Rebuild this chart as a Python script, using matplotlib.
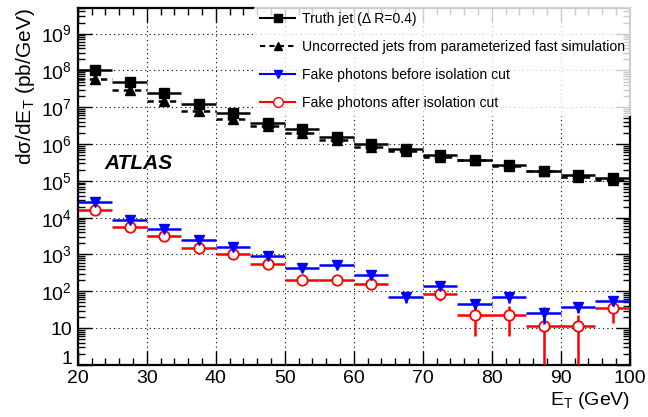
import numpy as np
import matplotlib
matplotlib.use('Agg')
import matplotlib.pyplot as plt
import matplotlib.transforms as mtransforms
from matplotlib.ticker import LogLocator, MultipleLocator, NullFormatter
from matplotlib.lines import Line2D

plt.rcParams['font.family'] = ['Liberation Sans', 'DejaVu Sans']
plt.rcParams['mathtext.fontset'] = 'custom'
plt.rcParams['mathtext.rm'] = 'Liberation Sans'
plt.rcParams['mathtext.it'] = 'Liberation Sans:italic'
plt.rcParams['mathtext.bf'] = 'Liberation Sans:bold'

# bin centres (5 GeV bins)
et = [22.5, 27.5, 32.5, 37.5, 42.5, 47.5, 52.5, 57.5,
      62.5, 67.5, 72.5, 77.5, 82.5, 87.5, 92.5, 97.5]
half_bin = 2.5

truth = [1.05e8, 5.0e7, 2.4e7, 1.24e7, 6.9e6, 3.8e6, 2.6e6, 1.55e6,
         9.9e5, 7.2e5, 5.1e5, 3.7e5, 2.7e5, 1.9e5, 1.45e5, 1.18e5]
fastsim = [5.8e7, 3.0e7, 1.5e7, 8.1e6, 4.8e6, 3.1e6, 2.0e6, 1.3e6,
           8.3e5, 6.3e5, 4.4e5, 3.6e5, 2.5e5, 1.8e5, 1.3e5, 1.07e5]
fake_before = [2.6e4, 8.9e3, 5.0e3, 2.4e3, 1.63e3, 900, 433, 510,
               280, 69, 140, 46, 69, 25, 37, 56]
fake_before_err = [1500, 500, 300, 150, 100, 60, 40, 45,
                   35, 22, 25, 12, 22, 12, 12, 15]
fake_after = [1.6e4, 5.5e3, 3.1e3, 1.5e3, 1.04e3, 545, 200, 207,
              162, np.nan, 83, 23, 23, 11.7, 11.7, 35]
fake_after_err = [1200, 400, 250, 120, 90, 50, 30, 30,
                  30, np.nan, 30, 17, 17, 11.5, 11.5, 21]

ytick_vals = [1, 10, 1e2, 1e3, 1e4, 1e5, 1e6, 1e7, 1e8, 1e9]
ytick_labels = ['1', '10', '$10^{2}$', '$10^{3}$', '$10^{4}$', '$10^{5}$',
                '$10^{6}$', '$10^{7}$', '$10^{8}$', '$10^{9}$']

fig = plt.figure(figsize=(6.48, 4.17), dpi=100)
ax = fig.add_axes([0.120, 0.125, 0.852, 0.856])
ax.set_yscale('log')

# fake photons after isolation (red open circles)
ax.errorbar(et, fake_after, xerr=half_bin, yerr=fake_after_err, fmt='o',
            color='red', mfc='white', mec='red', mew=1.3, ms=7.5,
            elinewidth=1.8, capsize=0, zorder=3)
# fake photons before isolation (blue down triangles)
ax.errorbar(et, fake_before, xerr=half_bin, yerr=fake_before_err, fmt='v',
            color='blue', ms=7, elinewidth=1.8, capsize=0, zorder=4)
# fast simulation (black triangles, dashed)
eb = ax.errorbar(et, fastsim, xerr=half_bin, fmt='^', color='black', ms=7,
                 elinewidth=1.8, capsize=0, zorder=5)
eb[2][0].set_linestyle((0, (2.5, 2)))
# truth jets (black squares)
ax.errorbar(et, truth, xerr=half_bin, fmt='s', color='black', ms=7.5,
            elinewidth=1.8, capsize=0, zorder=6)

ax.set_xlim(20, 100)
ax.set_ylim(1, 5e9)
ax.xaxis.set_major_locator(MultipleLocator(10))
ax.xaxis.set_minor_locator(MultipleLocator(2))
ax.set_yticks(ytick_vals, ytick_labels)
ax.yaxis.set_minor_locator(LogLocator(base=10, subs=np.arange(2, 10), numticks=20))
ax.yaxis.set_minor_formatter(NullFormatter())

ax.tick_params(which='both', direction='in', top=True, right=True,
               labelsize=14, width=1, pad=4)
ax.tick_params(which='major', length=10)
ax.tick_params(which='minor', length=5)
ax.grid(True, which='major', linestyle=(0, (1, 3)), color='black', linewidth=0.8)
for s in ax.spines.values():
    s.set_linewidth(1.6)

# lift the "1" label a little off the "20"
lab = ax.get_yticklabels()[0]
lab.set_transform(lab.get_transform() +
                  mtransforms.ScaledTranslation(0, 5 / 72, fig.dpi_scale_trans))

ax.set_xlabel('E$_{\\rm T}$ (GeV)', fontsize=14, loc='right', labelpad=2)
ax.set_ylabel('d\u03c3/dE$_{\\rm T}$ (pb/GeV)', fontsize=15, loc='top', labelpad=3)

ax.text(0.048, 0.55, 'ATLAS', transform=ax.transAxes, fontsize=15,
        fontweight='bold', fontstyle='italic')

handles = [
    Line2D([], [], color='black', marker='s', ms=6, lw=1.5),
    Line2D([], [], color='black', marker='^', ms=6, lw=1.5, ls=(0, (2.5, 2))),
    Line2D([], [], color='blue', marker='v', ms=6, lw=1.5),
    Line2D([], [], color='red', marker='o', ms=7, mfc='white', lw=1.5),
]
labels = ['Truth jet (\u0394 R=0.4)',
          'Uncorrected jets from parameterized fast simulation',
          'Fake photons before isolation cut',
          'Fake photons after isolation cut']
leg = ax.legend(handles, labels, loc='upper left', bbox_to_anchor=(0.32, 1.005),
                frameon=True, fontsize=10.1, handlelength=2.5, handletextpad=0.5,
                labelspacing=1.0, borderaxespad=0)
leg.get_frame().set_facecolor('white')
leg.get_frame().set_edgecolor('white')
leg.set_zorder(10)

fig.savefig('out.png', dpi=100)
